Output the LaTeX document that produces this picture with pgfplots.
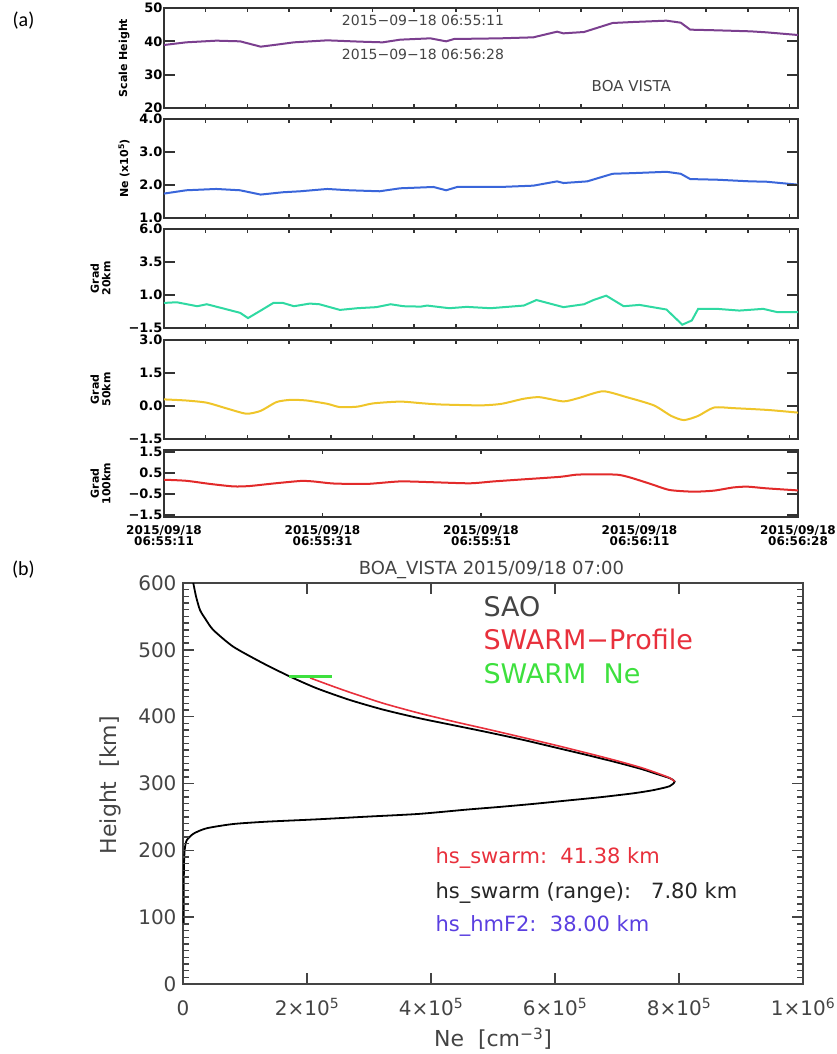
\documentclass[border=0pt]{standalone}
\usepackage{pgfplots}
\pgfplotsset{compat=1.18}
\usepackage{fontspec}
\setmainfont{DejaVu Sans}
\newfontfamily\carl{Carlito}
\definecolor{axg}{HTML}{333333}
\definecolor{txg}{HTML}{444444}
\definecolor{cpurple}{HTML}{7B3F8F}
\definecolor{cblue}{HTML}{3A66DA}
\definecolor{cteal}{HTML}{2FD9A2}
\definecolor{cgold}{HTML}{EFC52A}
\definecolor{cred}{HTML}{E22A2A}
\definecolor{pred}{HTML}{E8303C}
\definecolor{pgreen}{HTML}{3EE03E}
\definecolor{pblue}{HTML}{5A3FE0}
\pgfplotsset{
 apanel/.style={
  scale only axis, width=634pt, xmin=0, xmax=4,
  anchor=south west, clip=false,
  axis line style={draw=axg, line width=1.5pt},
  tick style={draw=none},
  xtick=\empty,
  yticklabel style={font=\fontsize{13}{13}\selectfont\bfseries, text=black, xshift=2pt},
  ylabel style={font=\fontsize{11}{11.5}\selectfont\bfseries, align=center, at={(axis description cs:-0.063,0.5)}, anchor=center},
 },
 acurve/.style={line width=2pt},
}
\begin{document}
\begin{tikzpicture}
\useasboundingbox (0pt,0pt) rectangle (837pt,-1054pt);
\node[font=\carl\fontsize{20}{20}\selectfont] at (23.5pt,-20.5pt) {(a)};
\node[font=\carl\fontsize{20}{20}\selectfont] at (23.5pt,-570pt) {(b)};

% Panel 1
\begin{axis}[apanel, name=p1, at={(164pt,-108pt)}, height=100pt, ymin=20, ymax=50,
  ytick={20,30,40,50}, yticklabels={20,30,40,50}, ylabel={Scale Height}]
\addplot[acurve, cpurple] coordinates {(0,38.9)(0.14,39.7)(0.33,40.2)(0.48,40.0)(0.61,38.4)(0.71,39.0)(0.82,39.7)(1.03,40.3)(1.24,39.9)(1.38,39.7)(1.49,40.5)(1.68,40.9)(1.78,40.0)(1.83,40.7)(2.12,40.9)(2.33,41.2)(2.48,42.9)(2.52,42.4)(2.65,42.8)(2.83,45.5)(2.96,45.8)(3.17,46.2)(3.26,45.6)(3.32,43.5)(3.49,43.3)(3.70,43.0)(3.80,42.7)(4.00,41.9)};
\node[font=\fontsize{14}{14}\selectfont, text=txg] at (axis description cs:0.4085,0.873) {2015−09−18 06:55:11};
\node[font=\fontsize{14}{14}\selectfont, text=txg] at (axis description cs:0.4085,0.537) {2015−09−18 06:56:28};
\node[font=\fontsize{15}{15}\selectfont, text=txg] at (axis description cs:0.737,0.223) {BOA VISTA};
\end{axis}

% Panel 2
\begin{axis}[apanel, name=p2, at={(164pt,-218pt)}, height=99pt, ymin=1, ymax=4,
  ytick={1,2,3,4}, yticklabels={1.0,2.0,3.0,4.0}, ylabel={Ne (x10\textsuperscript{5})}]
\addplot[acurve, cblue] coordinates {(0,1.74)(0.14,1.84)(0.33,1.88)(0.48,1.84)(0.61,1.71)(0.75,1.78)(0.86,1.81)(1.03,1.88)(1.17,1.84)(1.36,1.81)(1.49,1.90)(1.70,1.94)(1.78,1.84)(1.85,1.94)(2.12,1.94)(2.33,1.98)(2.48,2.11)(2.52,2.06)(2.67,2.11)(2.83,2.34)(2.96,2.36)(3.17,2.40)(3.26,2.34)(3.32,2.18)(3.49,2.16)(3.70,2.11)(3.80,2.10)(4.00,2.01)};
\end{axis}

% Panel 3
\begin{axis}[apanel, name=p3, at={(164pt,-328pt)}, height=99pt, ymin=-1.5, ymax=6,
  ytick={-1.5,1,3.5,6}, yticklabels={−1.5,1.0,3.5,6.0}, ylabel={Grad\\20km},
  ylabel style={at={(axis description cs:-0.100,0.5)}}]
\addplot[acurve, cteal] coordinates {(0,0.40)(0.08,0.45)(0.21,0.15)(0.27,0.30)(0.40,-0.10)(0.48,-0.35)(0.53,-0.75)(0.61,-0.18)(0.69,0.40)(0.75,0.40)(0.82,0.15)(0.92,0.35)(0.98,0.30)(1.11,-0.13)(1.22,0.0)(1.34,0.08)(1.43,0.30)(1.51,0.15)(1.62,0.12)(1.66,0.20)(1.80,0.0)(1.91,0.10)(2.06,0.0)(2.27,0.20)(2.35,0.62)(2.52,0.08)(2.65,0.30)(2.71,0.62)(2.79,0.95)(2.90,0.15)(3.00,0.25)(3.17,-0.10)(3.27,-1.25)(3.33,-0.93)(3.37,-0.05)(3.49,-0.05)(3.63,-0.18)(3.78,-0.05)(3.87,-0.30)(4.00,-0.30)};
\end{axis}

% Panel 4
\begin{axis}[apanel, name=p4, at={(164pt,-439pt)}, height=99pt, ymin=-1.5, ymax=3,
  ytick={-1.5,0,1.5,3}, yticklabels={−1.5,0.0,1.5,3.0}, ylabel={Grad\\50km},
  ylabel style={at={(axis description cs:-0.100,0.5)}}]
\addplot[acurve, cgold, smooth, tension=0.4] coordinates {(0,0.30)(0.14,0.25)(0.27,0.15)(0.40,-0.12)(0.52,-0.35)(0.61,-0.22)(0.71,0.18)(0.80,0.28)(0.90,0.25)(1.03,0.10)(1.11,-0.05)(1.22,-0.03)(1.32,0.12)(1.49,0.20)(1.62,0.13)(1.74,0.07)(2.00,0.03)(2.13,0.10)(2.27,0.33)(2.37,0.40)(2.52,0.21)(2.62,0.37)(2.77,0.67)(2.92,0.40)(3.09,0.03)(3.20,-0.45)(3.28,-0.64)(3.37,-0.45)(3.47,-0.07)(3.60,-0.10)(3.81,-0.18)(4.00,-0.30)};
\end{axis}

% Panel 5
\begin{axis}[apanel, name=p5, at={(164pt,-517pt)}, height=67pt, ymin=-1.6, ymax=1.6,
  ytick={-1.5,-0.5,0.5,1.5}, yticklabels={−1.5,−0.5,0.5,1.5}, ylabel={Grad\\100km},
  ylabel style={at={(axis description cs:-0.100,0.5)}},
  xtick={0,1,2,3,4},
  xticklabels={{2015/09/18\\06:55:11},{2015/09/18\\06:55:31},{2015/09/18\\06:55:51},{2015/09/18\\06:56:11},{2015/09/18\\06:56:28}},
  xticklabel style={align=center, font=\fontsize{12}{10}\selectfont\bfseries, text=black, yshift=-5pt}]
\addplot[acurve, cred, smooth, tension=0.4] coordinates {(0,0.18)(0.14,0.13)(0.29,-0.02)(0.44,-0.14)(0.54,-0.12)(0.69,0.0)(0.86,0.12)(0.94,0.10)(1.07,0.0)(1.28,-0.02)(1.49,0.10)(1.70,0.06)(1.93,0.01)(2.08,0.10)(2.29,0.21)(2.50,0.32)(2.60,0.42)(2.71,0.44)(2.86,0.42)(2.94,0.29)(3.07,-0.02)(3.19,-0.31)(3.34,-0.39)(3.47,-0.34)(3.59,-0.19)(3.68,-0.15)(3.80,-0.23)(4.00,-0.33)};
\end{axis}

% Panel (b)
\begin{axis}[scale only axis, name=pb, width=620pt, height=401pt, at={(183pt,-984pt)}, anchor=south west,
  xmin=0, xmax=1000000, ymin=0, ymax=600, clip=false,
  axis line style={draw=txg, line width=1.3pt},
  tick style={draw=none},
  ytick={0,100,200,300,400,500,600}, yticklabels={0,100,200,300,400,500,600},
  xtick={0,200000,400000,600000,800000,1000000},
  xticklabels={0,2×10\textsuperscript{5},4×10\textsuperscript{5},6×10\textsuperscript{5},8×10\textsuperscript{5},1×10\textsuperscript{6}},
  scaled x ticks=false,
  ticklabel style={font=\fontsize{20}{20}\selectfont, text=txg},
  xticklabel style={text height=16pt, yshift=-12pt},
  yticklabel style={xshift=-3pt},
  xlabel={Ne\ \ [cm\textsuperscript{−3}]},
  xlabel style={font=\fontsize{22}{22}\selectfont, text=txg, at={(axis description cs:0.5,-0.157)}, anchor=base},
  ylabel={Height\ \ [km]},
  ylabel style={font=\fontsize{22}{22}\selectfont, text=txg, at={(axis description cs:-0.107,0.496)}, anchor=base},
]
\addplot[black, line width=1.8pt, smooth, tension=0.4] coordinates {(1000,91)(1200,150)(1800,185)(3000,203)(6000,215)(17000,225)(38000,233)(81000,239.4)(135000,242.9)(216000,246.4)(296000,250.4)(380000,254.5)(458000,261)(511000,265)(565000,269.5)(619000,274.5)(673000,279.5)(726000,285.3)(758000,290)(785000,296)(793000,303)(785000,308)(765000,314)(740000,321.5)(700000,331.5)(650000,343)(600000,354)(550000,365)(490000,377)(440000,386.5)(382000,397.5)(323000,410.5)(269000,425)(215600,442.5)(172600,460)(129000,480)(81100,504.7)(48900,529.7)(37000,545)(27400,559.6)(21000,580)(16600,600)};
\addplot[pred, line width=1.6pt, smooth, tension=0.4] coordinates {(205000,458)(240000,446)(269000,436.5)(323000,420)(382000,405)(440000,392)(490000,381.5)(550000,368.5)(600000,357.5)(650000,346)(700000,334)(740000,323.5)(765000,315.5)(785000,308.5)(793000,303)};
\addplot[pgreen, line width=2.5pt] coordinates {(171000,460)(240000,460)};
\node[font=\fontsize{18}{18}\selectfont, text=txg, anchor=base] at (axis description cs:0.4976,1.02) {BOA\_VISTA 2015/09/18 07:00};
\node[font=\fontsize{27}{27}\selectfont, text=txg, anchor=base west] at (axis description cs:0.479,0.916) {SAO};
\node[font=\fontsize{27}{27}\selectfont, text=pred, anchor=base west] at (axis description cs:0.479,0.833) {SWARM−Profile};
\node[font=\fontsize{27}{27}\selectfont, text=pgreen, anchor=base west] at (axis description cs:0.479,0.750) {SWARM\ \ Ne};
\node[font=\fontsize{21}{21}\selectfont, text=pred, anchor=base west] at (axis description cs:0.4016,0.2993) {hs\_swarm:\ \ 41.38 km};
\node[font=\fontsize{21}{21}\selectfont, text=black!85, anchor=base west] at (axis description cs:0.4016,0.2137) {hs\_swarm (range):\ \ \ 7.80 km};
\node[font=\fontsize{21}{21}\selectfont, text=pblue, anchor=base west] at (axis description cs:0.4016,0.1322) {hs\_hmF2:\ \ 38.00 km};
\end{axis}

% axis tick marks, drawn on top of the finished axes
\foreach \p/\a/\b in {p1/33.3/66.7,p2/33/66,p3/33/66,p4/33/66}{
  \foreach \y in {\a,\b}{
    \draw[axg,line width=1.8pt] ([yshift=\y pt]\p.south west) -- ++(11pt,0pt);
    \draw[axg,line width=1.8pt] ([yshift=\y pt]\p.south east) -- ++(-11pt,0pt);
  }
  \foreach \k in {1,...,15}{
    \draw[axg,line width=1.5pt] ([xshift=\k*41.7pt]\p.south west) -- ++(0pt,4pt);
    \draw[axg,line width=1.5pt] ([xshift=\k*41.7pt]\p.north west) -- ++(0pt,-4pt);
  }
}
\foreach \y in {2.1,23,44,64.9}{
  \draw[axg,line width=1.8pt] ([yshift=\y pt]p5.south west) -- ++(11pt,0pt);
  \draw[axg,line width=1.8pt] ([yshift=\y pt]p5.south east) -- ++(-11pt,0pt);
}
\foreach \k in {1,2,3}{
  \draw[axg,line width=1.5pt] ([xshift=\k*158.5pt]p5.south west) -- ++(0pt,4pt);
  \draw[axg,line width=1.5pt] ([xshift=\k*158.5pt]p5.north west) -- ++(0pt,-4pt);
}
\foreach \k in {1,...,59}{
  \draw[txg,line width=1.4pt] ([yshift=\k*6.683pt]pb.south west) -- ++(6pt,0pt);
  \draw[txg,line width=1.4pt] ([yshift=\k*6.683pt]pb.south east) -- ++(-6pt,0pt);
}
\foreach \k in {1,...,5}{
  \draw[txg,line width=1.6pt] ([yshift=\k*66.83pt]pb.south west) -- ++(11pt,0pt);
  \draw[txg,line width=1.6pt] ([yshift=\k*66.83pt]pb.south east) -- ++(-11pt,0pt);
}
\foreach \k in {1,...,4}{
  \draw[txg,line width=1.6pt] ([xshift=\k*124pt]pb.south west) -- ++(0pt,11pt);
  \draw[txg,line width=1.6pt] ([xshift=\k*124pt]pb.north west) -- ++(0pt,-11pt);
}
\end{tikzpicture}
\end{document}
